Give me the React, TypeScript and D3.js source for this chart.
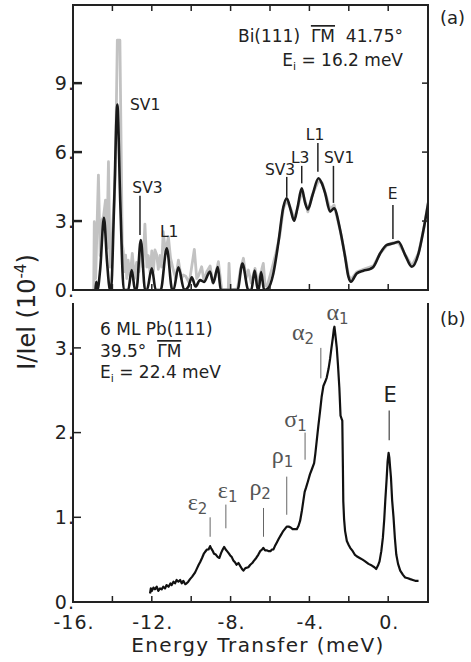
import React from "react";
import * as d3 from "d3";

// panel (a): Bi(111), smoothed (black) and raw (grey) spectra
const blackA: [number, number][] = [
  [-14.86, 0], [-14.82, 0.36], [-14.76, 0], [-14.62, 0.9], [-14.43, 3.14], [-14.27, 1.2], [-14.12, 0],
  [-14.07, 0], [-13.92, 3.5], [-13.75, 8.07], [-13.6, 3.8], [-13.42, 0],
  [-13.2, 0], [-13.02, 0.87], [-12.85, 0],
  [-12.78, 0], [-12.56, 2.17], [-12.34, 0],
  [-12.25, 0], [-12.0, 0.94], [-11.8, 0],
  [-11.55, 0], [-11.24, 1.81], [-10.96, 0],
  [-10.9, 0], [-10.65, 0.99], [-10.35, 0],
  [-10.14, 0.15], [-9.97, 0.55], [-9.78, 0.15], [-9.55, 0.43], [-9.35, 0.35], [-9.05, 0.8],
  [-8.88, 0.3], [-8.65, 1.0], [-8.5, 0],
  [-7.65, 0], [-7.4, 1.15], [-7.1, 0],
  [-6.95, 0], [-6.78, 0.85], [-6.62, 0],
  [-6.58, 0], [-6.45, 0.78], [-6.3, 0],
  [-6.12, 0.05], [-5.83, 0.72], [-5.58, 2.03], [-5.32, 3.62], [-5.15, 3.99], [-4.95, 3.48],
  [-4.78, 3.01], [-4.6, 3.6], [-4.39, 4.42], [-4.22, 3.8], [-4.08, 3.51], [-3.85, 4.1],
  [-3.54, 4.86], [-3.35, 4.6], [-3.2, 4.2], [-2.95, 3.41], [-2.75, 3.55], [-2.44, 2.61],
  [-2.19, 1.45], [-2.02, 0.58], [-1.89, 0.36], [-1.6, 0.72], [-1.26, 0.84], [-0.9, 0.92],
  [-0.75, 1.01], [-0.41, 1.59], [-0.07, 1.96], [0.27, 2.03], [0.52, 2.1], [0.86, 1.52],
  [1.2, 1.01], [1.54, 1.59], [1.79, 2.61], [2.04, 3.84],
];

const greyA: [number, number][] = [
  [-14.95, 0], [-14.92, 2.97], [-14.85, 0.5], [-14.71, 5.0], [-14.62, 1.5], [-14.55, 3.0],
  [-14.45, 3.2], [-14.35, 3.91], [-14.28, 1.8], [-14.2, 5.58], [-14.12, 1.0], [-14.07, 1.3],
  [-13.95, 3.33], [-13.85, 5.0], [-13.75, 10.87], [-13.62, 10.87], [-13.5, 2.0], [-13.45, 1.7],
  [-13.38, 0.8], [-13.33, 1.52], [-13.27, 0.5], [-13.2, 1.3], [-13.1, 0.6], [-12.99, 1.59],
  [-12.88, 0.5], [-12.77, 1.2], [-12.65, 0.8], [-12.55, 2.0], [-12.45, 1.0], [-12.35, 2.87],
  [-12.25, 1.0], [-12.18, 1.5], [-12.08, 0.7], [-12.0, 1.7], [-11.92, 0.8], [-11.84, 1.74],
  [-11.75, 1.52], [-11.67, 0.9], [-11.58, 1.5], [-11.5, 1.0], [-11.42, 2.54], [-11.3, 1.6],
  [-11.16, 2.32], [-11.05, 1.4], [-10.91, 0.87], [-10.78, 0.5], [-10.65, 1.3], [-10.5, 0.5],
  [-10.4, 0.65], [-10.28, 0.6], [-10.1, 0.3], [-9.84, 1.77], [-9.72, 0.5], [-9.64, 0.6],
  [-9.47, 1.01], [-9.35, 0.4], [-9.21, 0.8], [-9.04, 1.05], [-8.9, 0.3], [-8.79, 0.55],
  [-8.62, 1.23], [-8.45, 0], [-8.12, 0], [-8.08, 1.16], [-8.02, 0], [-7.65, 0.05], [-7.5, 0.9],
  [-7.35, 1.38], [-7.22, 0.5], [-7.1, 0.87], [-6.95, 0.3], [-6.76, 0.94], [-6.62, 0.3],
  [-6.51, 0.65], [-6.42, 0.9], [-6.34, 1.16], [-6.25, 0.2], [-6.15, 0.15], [-5.91, 0.9],
  [-5.7, 1.6], [-5.5, 2.4], [-5.32, 3.55], [-5.15, 3.9], [-4.95, 3.55], [-4.78, 3.1],
  [-4.6, 3.55], [-4.39, 4.3], [-4.22, 3.9], [-4.08, 3.4], [-3.85, 4.15], [-3.54, 4.75],
  [-3.35, 4.65], [-3.2, 4.25], [-2.95, 3.5], [-2.75, 3.7], [-2.44, 2.6], [-2.19, 1.5],
  [-2.02, 0.65], [-1.89, 0.45], [-1.6, 0.78], [-1.26, 0.9], [-0.75, 1.05], [-0.41, 1.6],
  [-0.07, 1.93], [0.27, 2.06], [0.52, 2.05], [0.86, 1.55], [1.2, 1.05], [1.54, 1.6],
  [1.79, 2.6], [2.04, 3.84],
];

// panel (b): 6 ML Pb(111)
const curveB: [number, number][] = [
  [-12.09, 0.1], [-12.05, 0.16], [-12.0, 0.13], [-11.92, 0.17], [-11.84, 0.15], [-11.75, 0.18],
  [-11.67, 0.13], [-11.58, 0.16], [-11.5, 0.15], [-11.42, 0.18], [-11.33, 0.16], [-11.25, 0.2],
  [-11.15, 0.18], [-11.05, 0.22], [-10.99, 0.2], [-10.9, 0.24], [-10.82, 0.22], [-10.74, 0.26],
  [-10.65, 0.24], [-10.56, 0.26], [-10.48, 0.22], [-10.4, 0.25], [-10.3, 0.21], [-10.23, 0.22],
  [-10.15, 0.24], [-10.06, 0.27], [-9.95, 0.3], [-9.8, 0.35], [-9.7, 0.4], [-9.62, 0.44],
  [-9.55, 0.47], [-9.45, 0.52], [-9.36, 0.57], [-9.3, 0.59], [-9.2, 0.62], [-9.12, 0.62],
  [-9.04, 0.66], [-8.98, 0.63], [-8.9, 0.6], [-8.84, 0.57], [-8.75, 0.56], [-8.65, 0.53],
  [-8.57, 0.52], [-8.48, 0.58], [-8.4, 0.62], [-8.33, 0.65], [-8.25, 0.62], [-8.18, 0.6],
  [-8.11, 0.58], [-8.02, 0.55], [-7.94, 0.53], [-7.86, 0.49], [-7.78, 0.47], [-7.7, 0.44],
  [-7.6, 0.46], [-7.5, 0.42], [-7.42, 0.39], [-7.35, 0.37], [-7.25, 0.4], [-7.1, 0.41],
  [-7.0, 0.44], [-6.9, 0.46], [-6.84, 0.48], [-6.7, 0.52], [-6.59, 0.56], [-6.5, 0.6],
  [-6.4, 0.62], [-6.34, 0.64], [-6.25, 0.61], [-6.15, 0.61], [-6.08, 0.6], [-5.98, 0.6],
  [-5.9, 0.62], [-5.83, 0.62], [-5.75, 0.66], [-5.66, 0.7], [-5.55, 0.75], [-5.45, 0.79],
  [-5.35, 0.83], [-5.25, 0.86], [-5.15, 0.89], [-5.05, 0.89], [-4.95, 0.88], [-4.85, 0.86],
  [-4.72, 0.86], [-4.64, 0.86], [-4.55, 0.9], [-4.47, 0.96], [-4.38, 1.08], [-4.31, 1.19],
  [-4.24, 1.3], [-4.17, 1.35], [-4.08, 1.42], [-3.97, 1.51], [-3.87, 1.57], [-3.76, 1.64],
  [-3.7, 1.75], [-3.63, 1.9], [-3.55, 2.07], [-3.46, 2.25], [-3.38, 2.42], [-3.29, 2.55],
  [-3.2, 2.6], [-3.12, 2.65], [-3.03, 2.75], [-2.95, 2.87], [-2.88, 3.0], [-2.81, 3.12],
  [-2.76, 3.22], [-2.73, 3.25], [-2.68, 3.15], [-2.61, 3.0], [-2.55, 2.8], [-2.48, 2.53],
  [-2.42, 2.2], [-2.36, 2.16], [-2.33, 2.14], [-2.3, 1.6], [-2.28, 1.19], [-2.24, 0.98],
  [-2.19, 0.84], [-2.1, 0.72], [-2.0, 0.67], [-1.93, 0.64], [-1.8, 0.6], [-1.7, 0.56],
  [-1.6, 0.54], [-1.45, 0.52], [-1.3, 0.5], [-1.17, 0.48], [-1.0, 0.45], [-0.83, 0.43],
  [-0.7, 0.41], [-0.61, 0.39], [-0.52, 0.43], [-0.44, 0.48], [-0.35, 0.6], [-0.27, 0.76],
  [-0.2, 0.98], [-0.15, 1.19], [-0.08, 1.45], [-0.03, 1.66], [0.02, 1.76], [0.06, 1.7],
  [0.1, 1.58], [0.14, 1.47], [0.2, 1.2], [0.27, 1.0], [0.34, 0.75], [0.41, 0.56], [0.5, 0.45],
  [0.61, 0.37], [0.75, 0.32], [0.86, 0.29], [1.0, 0.28], [1.12, 0.27], [1.25, 0.26],
  [1.37, 0.25], [1.45, 0.25], [1.54, 0.25],
];

const xTicks = [-16, -12, -8, -4, 0];
const xMinor = [-14, -12, -10, -8, -6, -4, -2, 0];
const yTicksA = [0, 3, 6, 9];
const yTicksB = [0, 1, 2, 3];

// peak labels: [text, label x, label y, line x, line y1, line y2] in data units
const labelsA: [string, number, number, number | null, number, number][] = [
  ["SV1", -12.34, 7.83, null, 0, 0],
  ["SV3", -12.22, 4.22, -12.6, 4.1, 2.39],
  ["L1", -11.12, 2.3, null, 0, 0],
  ["SV3", -5.49, 5.0, -5.15, 4.92, 4.05],
  ["L3", -4.47, 5.53, -4.39, 5.4, 4.64],
  ["L1", -3.71, 6.53, -3.57, 6.4, 5.15],
  ["SV1", -2.49, 5.53, -2.78, 5.4, 3.79],
  ["E", 0.23, 3.96, 0.24, 3.7, 2.22],
];

const labelsB: [string, string, number, number, number | null, number, number][] = [
  ["ε", "2", -9.68, 1.09, -9.04, 1.0, 0.77],
  ["ε", "1", -8.15, 1.23, -8.24, 1.15, 0.87],
  ["ρ", "2", -6.5, 1.26, -6.33, 1.11, 0.77],
  ["ρ", "1", -5.36, 1.64, -5.15, 1.48, 1.03],
  ["σ", "1", -4.7, 2.07, -4.22, 2.0, 1.68],
  ["α", "2", -4.32, 3.09, -3.42, 3.0, 2.64],
  ["α", "1", -2.57, 3.33, null, 0, 0],
];

const W = 471;
const H = 662;
const left = 73;
const right = 428;
const aTop = 5;
const aBottom = 290;
const bTop = 303;
const bBottom = 602;
const font = "DejaVu Sans";

export default function App() {
  const x = d3.scaleLinear().domain([-16, 2.02]).range([left, right]);
  const yA = d3.scaleLinear().domain([0, 12.4]).range([aBottom, aTop]);
  const yB = d3.scaleLinear().domain([0, 3.53]).range([bBottom, bTop]);

  const lineA = d3
    .line<[number, number]>()
    .x((d) => x(d[0]))
    .y((d) => yA(d[1]))
    .curve(d3.curveMonotoneX);
  const greyLine = d3
    .line<[number, number]>()
    .x((d) => x(d[0]))
    .y((d) => yA(d[1]));
  const lineB = d3
    .line<[number, number]>()
    .x((d) => x(d[0]))
    .y((d) => yB(d[1]));

  return (
    <svg
      width={W}
      height={H}
      style={{ position: "absolute", left: 0, top: 0, background: "#fff" }}
      fontFamily={font}
    >
      <defs>
        <clipPath id="clipA">
          <rect x={left} y={aTop} width={right - left} height={aBottom - aTop} />
        </clipPath>
      </defs>

      {/* panel (a) */}
      <g clipPath="url(#clipA)">
        <path d={greyLine(greyA) || ""} fill="none" stroke="#c2c2c2" strokeWidth={2.8} strokeLinejoin="round" />
        <path d={lineA(blackA) || ""} fill="none" stroke="#1a1a1a" strokeWidth={2.6} strokeLinejoin="round" />
      </g>
      <rect x={left} y={aTop} width={right - left} height={aBottom - aTop} fill="none" stroke="#222" strokeWidth={2} />
      {xMinor.map((t) => (
        <g key={"ta" + t}>
          <line x1={x(t)} x2={x(t)} y1={aTop} y2={aTop + 6} stroke="#222" strokeWidth={1.5} />
          <line x1={x(t)} x2={x(t)} y1={aBottom} y2={aBottom - 6} stroke="#222" strokeWidth={1.5} />
        </g>
      ))}
      {yTicksA.slice(1).map((t) => (
        <g key={"ya" + t}>
          <line x1={left} x2={left + 9} y1={yA(t)} y2={yA(t)} stroke="#222" strokeWidth={2.5} />
          <line x1={right} x2={right - 6} y1={yA(t)} y2={yA(t)} stroke="#222" strokeWidth={1.5} />
        </g>
      ))}
      {yTicksA.map((t) => (
        <text key={"yal" + t} x={left + 2} y={yA(t)} dy="0.36em" textAnchor="end" fontSize={19} letterSpacing={1} fill="#222">
          {t + "."}
        </text>
      ))}

      <text x={403} y={42} textAnchor="end" fontSize={17} fill="#222" style={{ whiteSpace: "pre" }}>
        {"Bi(111)  "}
        <tspan style={{ textDecoration: "overline" }}>ΓM</tspan>
        {"  41.75°"}
      </text>
      <text x={403} y={66} textAnchor="end" fontSize={17} fill="#222">
        E<tspan fontSize={11} dy={4}>i</tspan>
        <tspan dy={-4}>{" = 16.2 meV"}</tspan>
      </text>

      {labelsA.map(([s, lx, ly, px, p1, p2], i) => (
        <g key={"la" + i}>
          <text x={x(lx)} y={yA(ly)} textAnchor="middle" fontSize={15.5} fill="#222">
            {s}
          </text>
          {px !== null && (
            <line x1={x(px)} x2={x(px)} y1={yA(p1)} y2={yA(p2)} stroke="#222" strokeWidth={1.5} />
          )}
        </g>
      ))}

      <text x={440} y={24} fontSize={18} fill="#222">(a)</text>
      <text x={440} y={325} fontSize={18} fill="#222">(b)</text>

      {/* panel (b) */}
      <path d={lineB(curveB) || ""} fill="none" stroke="#111" strokeWidth={2.2} strokeLinejoin="round" />
      <path
        d={`M${left},${bTop}V${bBottom}H${right}V${bTop}`}
        fill="none"
        stroke="#222"
        strokeWidth={2}
      />
      {xMinor.concat([-16]).map((t) => (
        <line key={"tb" + t} x1={x(t)} x2={x(t)} y1={bBottom} y2={bBottom - 6} stroke="#222" strokeWidth={1.5} />
      ))}
      {yTicksB.slice(1).map((t) => (
        <line key={"yb" + t} x1={left} x2={left + 8} y1={yB(t)} y2={yB(t)} stroke="#222" strokeWidth={1.5} />
      ))}
      {yTicksB.map((t) => (
        <text key={"ybl" + t} x={left + 2} y={yB(t)} dy="0.36em" textAnchor="end" fontSize={19} letterSpacing={1} fill="#222">
          {t + "."}
        </text>
      ))}
      {xTicks.map((t) => (
        <text key={"xl" + t} x={x(t) + 1} y={629} textAnchor="middle" fontSize={19} letterSpacing={1} fill="#222">
          {t + "."}
        </text>
      ))}

      <text x={100} y={335} fontSize={17} fill="#222">6 ML Pb(111)</text>
      <text x={100} y={357} fontSize={17} fill="#222" style={{ whiteSpace: "pre" }}>
        {"39.5°  "}
        <tspan style={{ textDecoration: "overline" }}>ΓM</tspan>
      </text>
      <text x={100} y={378} fontSize={17} fill="#222">
        E<tspan fontSize={11} dy={4}>i</tspan>
        <tspan dy={-4}>{" = 22.4 meV"}</tspan>
      </text>

      {labelsB.map(([s, sub, lx, ly, px, p1, p2], i) => (
        <g key={"lb" + i}>
          <text x={x(lx)} y={yB(ly)} textAnchor="middle" fill="#555">
            <tspan fontFamily="Liberation Serif" fontSize={24}>{s}</tspan>
            <tspan fontSize={15} dy={4}>{sub}</tspan>
          </text>
          {px !== null && (
            <line x1={x(px)} x2={x(px)} y1={yB(p1)} y2={yB(p2)} stroke="#666" strokeWidth={1} />
          )}
        </g>
      ))}
      <text x={x(0.1)} y={yB(2.36)} textAnchor="middle" fontSize={21} fill="#222">E</text>
      <line x1={x(0.05)} x2={x(0.05)} y1={yB(2.26)} y2={yB(1.91)} stroke="#444" strokeWidth={1.2} />

      {/* axis titles */}
      <text x={258} y={652} textAnchor="middle" fontSize={20} letterSpacing={1.4} fill="#222">
        Energy Transfer (meV)
      </text>
      <text transform="translate(35,312) rotate(-90)" textAnchor="middle" fontSize={24} fill="#222">
        I/Iel (10<tspan fontSize={15} dy={-9}>-4</tspan>
        <tspan dy={9}>)</tspan>
      </text>
    </svg>
  );
}
